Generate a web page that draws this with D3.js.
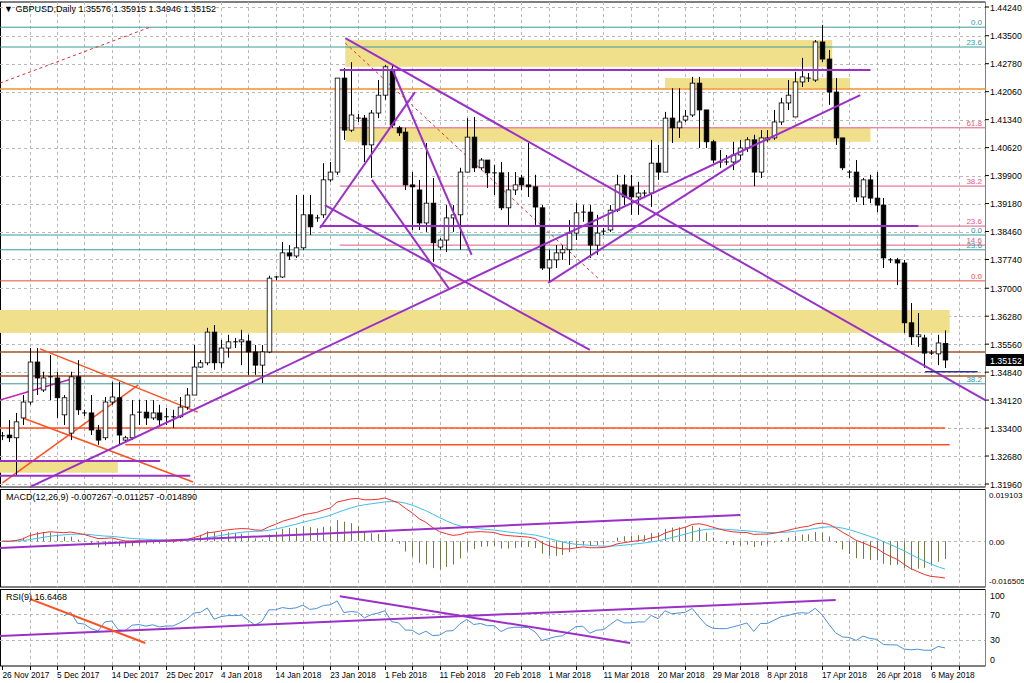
<!DOCTYPE html>
<html><head><meta charset="utf-8">
<script src="https://cdn.jsdelivr.net/npm/d3@7/dist/d3.min.js"></script>
<style>body{margin:0;background:#fff}svg{display:block;font-family:"Liberation Sans",Arial,sans-serif}</style>
</head><body><svg id="c" width="1024" height="683"></svg>
<script>
const opens=[1.3320,1.3322,1.3315,1.3366,1.3407,1.3510,1.3438,1.3472,1.3469,1.3374,1.3327,1.3472,1.3379,1.3379,1.3335,1.3315,1.3407,1.3418,1.3309,1.3315,1.3379,1.3381,1.3366,1.3379,1.3366,1.3369,1.3369,1.3394,1.3425,1.3497,1.3508,1.3587,1.3508,1.3546,1.3562,1.3562,1.3564,1.3536,1.3502,1.3536,1.3726,1.3729,1.3791,1.3783,1.3804,1.3889,1.3881,1.3889,1.3979,1.3999,1.4241,1.4107,1.4138,1.4138,1.4069,1.4151,1.4197,1.4262,1.4113,1.4102,1.3966,1.3953,1.3868,1.3919,1.3806,1.3824,1.3881,1.3889,1.3999,1.4089,1.4010,1.4030,1.3997,1.3997,1.3907,1.3953,1.3984,1.3966,1.3961,1.3907,1.3752,1.3773,1.3791,1.3799,1.3842,1.3896,1.3896,1.3811,1.3847,1.3850,1.3901,1.3966,1.3961,1.3935,1.3945,1.3945,1.4022,1.3999,1.4138,1.4113,1.4133,1.4146,1.4228,1.4159,1.4077,1.4022,1.4022,1.4025,1.4043,1.4061,1.4082,1.3999,1.4082,1.4087,1.4128,1.4177,1.4141,1.4231,1.4241,1.4236,1.4334,1.4290,1.4205,1.4087,1.3999,1.3999,1.3935,1.3979,1.3932,1.3914,1.3773,1.3773,1.3765,1.3611,1.3575,1.3572,1.3533,1.3531,1.35576];
const highs=[1.3330,1.3361,1.3379,1.3425,1.3546,1.3546,1.3485,1.3528,1.3485,1.3425,1.3485,1.3515,1.3387,1.3425,1.3348,1.3420,1.3459,1.3459,1.3320,1.3412,1.3412,1.3412,1.3412,1.3400,1.3392,1.3387,1.3420,1.3443,1.3554,1.3515,1.3598,1.3605,1.3567,1.3580,1.3572,1.3593,1.3580,1.3554,1.3554,1.3732,1.3732,1.3819,1.3811,1.3940,1.3940,1.3940,1.3889,1.4022,1.4025,1.4241,1.4267,1.4282,1.4149,1.4146,1.4159,1.4236,1.4275,1.4275,1.4118,1.4113,1.3999,1.3979,1.4074,1.3984,1.3829,1.3914,1.3914,1.4010,1.4138,1.4141,1.4035,1.4030,1.4017,1.4025,1.3999,1.3999,1.3992,1.4074,1.3992,1.3914,1.3799,1.3811,1.3811,1.3876,1.3919,1.3914,1.3914,1.3889,1.3855,1.3914,1.3992,1.3992,1.3992,1.3974,1.3953,1.4082,1.4069,1.4154,1.4215,1.4215,1.4159,1.4244,1.4244,1.4159,1.4082,1.4056,1.4043,1.4077,1.4082,1.4089,1.4095,1.4107,1.4107,1.4159,1.4190,1.4236,1.4257,1.4293,1.4254,1.4339,1.4378,1.4313,1.4241,1.4087,1.4004,1.4030,1.3984,1.3992,1.3999,1.3932,1.3778,1.3778,1.3773,1.3662,1.3636,1.3580,1.3541,1.3580,1.35915];
const lows=[1.3309,1.3304,1.3219,1.3348,1.3400,1.3425,1.3433,1.3412,1.3366,1.3348,1.3309,1.3374,1.3371,1.3322,1.3297,1.3309,1.3400,1.3297,1.3304,1.3309,1.3348,1.3348,1.3361,1.3348,1.3348,1.3340,1.3366,1.3387,1.3425,1.3495,1.3502,1.3490,1.3495,1.3521,1.3546,1.3502,1.3477,1.3477,1.3456,1.3533,1.3721,1.3726,1.3773,1.3778,1.3799,1.3837,1.3871,1.3881,1.3974,1.3992,1.4082,1.4102,1.4128,1.4025,1.3984,1.4138,1.4185,1.4113,1.4092,1.3953,1.3850,1.3850,1.3845,1.3768,1.3799,1.3793,1.3845,1.3799,1.3999,1.3999,1.4004,1.3958,1.3940,1.3901,1.3863,1.3940,1.3953,1.3935,1.3863,1.3747,1.3714,1.3752,1.3773,1.3760,1.3824,1.3871,1.3778,1.3786,1.3837,1.3845,1.3896,1.3914,1.3889,1.3889,1.3932,1.3909,1.3979,1.3999,1.4074,1.4087,1.4128,1.4141,1.4061,1.4061,1.4022,1.4010,1.4017,1.4004,1.4030,1.4051,1.3963,1.3984,1.4077,1.4082,1.4120,1.4159,1.4141,1.4218,1.4231,1.4231,1.4282,1.4172,1.4069,1.4004,1.3984,1.3922,1.3914,1.3919,1.3896,1.3752,1.3765,1.3708,1.3585,1.3554,1.3549,1.3495,1.3528,1.3502,1.34946];
const closes=[1.3317,1.3315,1.3356,1.3407,1.3510,1.3469,1.3469,1.3469,1.3418,1.3418,1.3472,1.3387,1.3379,1.3335,1.3309,1.3407,1.3420,1.3322,1.3315,1.3374,1.3381,1.3366,1.3379,1.3361,1.3369,1.3369,1.3394,1.3425,1.3497,1.3508,1.3587,1.3508,1.3546,1.3562,1.3562,1.3567,1.3536,1.3502,1.3536,1.3726,1.3729,1.3791,1.3783,1.3804,1.3889,1.3858,1.3881,1.3979,1.3999,1.4241,1.4107,1.4146,1.4138,1.4069,1.4151,1.4197,1.4270,1.4120,1.4100,1.3966,1.3961,1.3868,1.3919,1.3817,1.3824,1.3881,1.3889,1.3999,1.4089,1.4010,1.4030,1.3997,1.3997,1.3907,1.3953,1.3966,1.3966,1.3961,1.3909,1.3752,1.3773,1.3791,1.3799,1.3842,1.3894,1.3896,1.3811,1.3842,1.3847,1.3901,1.3966,1.3935,1.3935,1.3945,1.3945,1.4022,1.3999,1.4138,1.4113,1.4128,1.4143,1.4228,1.4159,1.4077,1.4030,1.4025,1.4025,1.4043,1.4061,1.4082,1.3999,1.4087,1.4087,1.4128,1.4177,1.4197,1.4231,1.4244,1.4241,1.4334,1.4290,1.4205,1.4087,1.4010,1.3999,1.3935,1.3979,1.3932,1.3914,1.3778,1.3770,1.3765,1.3611,1.3575,1.3580,1.3533,1.3533,1.3559,1.35152];
const dateLabels=["26 Nov 2017","5 Dec 2017","14 Dec 2017","25 Dec 2017","4 Jan 2018","14 Jan 2018","23 Jan 2018","1 Feb 2018","11 Feb 2018","20 Feb 2018","1 Mar 2018","11 Mar 2018","20 Mar 2018","29 Mar 2018","8 Apr 2018","17 Apr 2018","26 Apr 2018","6 May 2018"];
const priceTicks=["1.44240","1.43500","1.42780","1.42060","1.41340","1.40620","1.39900","1.39180","1.38460","1.37740","1.37000","1.36280","1.35560","1.34840","1.34120","1.33400","1.32680","1.31960"];
const macdTicks=["0.019103","0.00","-0.016505"];
const rsiTicks=[100,70,30,0];
const zones=[[50.2,1.4339,121.5,1.4270],[97,1.4241,124.1,1.4215],[50.2,1.4113,127.1,1.4077],[-1,1.3644,138.7,1.3585],[-1,1.3258,16.9,1.3225]];
const hLevels=[[-1,143.9,1.4372,"#3a9a9a","0.0"],[-1,143.9,1.4321,"#3a9a9a","23.6"],[-1,143.9,1.4213,"#f0902a",""],[49.4,143.9,1.4113,"#e05a80","61.8"],[49.4,143.9,1.3963,"#e05a80","38.2"],[49.4,143.9,1.3860,"#e05a80","23.6"],[-1,143.9,1.3837,"#3a9a9a","0.0"],[49.4,143.9,1.3811,"#e05a80","14.6"],[-1,143.9,1.3799,"#3a9a9a","23.6"],[-1,143.9,1.3719,"#e0503a","0.0"],[-1,143.9,1.3536,"#a0522d",""],[-1,143.9,1.3474,"#a0522d",""],[-1,143.9,1.3454,"#3a9a9a","38.2"],[-1,138,1.3340,"#ff5020",""],[18,138.7,1.3297,"#ff5020",""]];
const purpleLines=[[49.4,1.4262,127.1,1.4262],[46.5,1.3860,134.1,1.3860],[50.2,1.4344,143.9,1.3412],[4,1.3188,125.6,1.4197],[79.9,1.3714,108,1.4030],[46.5,1.3855,60.4,1.4205],[57,1.4267,68.7,1.3786],[54.1,1.3979,65.5,1.3696],[47.2,1.3914,86,1.3541],[-1,1.3255,23.1,1.3255],[-1,1.3217,27.5,1.3217]];
const orangeLines=[[5.5,1.3544,28.6,1.3381],[3,1.3366,27.9,1.3201],[0,1.3199,19.9,1.3451]];
const magentaLines=[[-0.35,1.3412,10.6,1.3469]];
const dashedLines=[[-0.35,1.4228,21.6,1.4372],[50.2,1.4331,87.5,1.3721]];
const navyLine=[135.1,1.3485,142.8,1.3485];
const macdTrend=[-0.35,-0.00275,108,0.0106];
const rsiTrends=[[-0.35,36,122,92,"#9a30c8"],[49.4,98,91.9,25,"#9a30c8"],[4,94,20.9,25,"#ff5020"]];

const svg=d3.select("#c");
const R=985;
const x=d3.scaleLinear().domain([0,1]).range([2.4,9.23]);
const y=d3.scaleLinear().domain([1.3196,1.4424]).range([484,7]);
const ym=d3.scaleLinear().domain([-0.016505,0.019103]).range([582,494]);
const yr=d3.scaleLinear().domain([0,100]).range([659,595]);
const N=closes.length;
function ema(a,n){const k=2/(n+1);let o=[],p=a[0];a.forEach((v,i)=>{p=i?v*k+p*(1-k):v;o.push(p)});return o;}
const e12=ema(closes,12),e26=ema(closes,26);
const macd=closes.map((c,i)=>e12[i]-e26[i]);
const sig=ema(macd,9);
const osma=macd.map((m,i)=>2*(m-sig[i]));
const rsi=[];{let ag=0,al=0;closes.forEach((c,i)=>{if(i==0){rsi.push(null);return;}const d=c-closes[i-1];const g=Math.max(d,0),l=Math.max(-d,0);if(i<=9){ag+=g/9;al+=l/9;}else{ag=(ag*8+g)/9;al=(al*8+l)/9;}rsi.push(i<9?null:(al==0?100:100-100/(1+ag/al)));});}

const g=svg.append("g");
function frame(t,b){g.append("rect").attr("x",0.5).attr("y",t).attr("width",R).attr("height",b-t).attr("fill","none").attr("stroke","#000");}
const grid=svg.append("g").attr("stroke","#b8b8b8").attr("stroke-dasharray","3,3");
for(let b=4;b<144;b+=4){const xx=Math.round(x(b))+0.5;[[2,487],[490,587],[590,666]].forEach(([t,bt])=>grid.append("line").attr("x1",xx).attr("x2",xx).attr("y1",t).attr("y2",bt));}
priceTicks.forEach(t=>{const yy=Math.round(y(+t))+0.5;grid.append("line").attr("x1",0).attr("x2",R).attr("y1",yy).attr("y2",yy);});
[0].forEach(v=>grid.append("line").attr("x1",0).attr("x2",R).attr("y1",Math.round(ym(v))+.5).attr("y2",Math.round(ym(v))+.5));
[70,30].forEach(v=>grid.append("line").attr("x1",0).attr("x2",R).attr("y1",Math.round(yr(v))+.5).attr("y2",Math.round(yr(v))+.5));

zones.forEach(z=>svg.append("rect").attr("x",x(z[0])).attr("y",y(z[1])).attr("width",x(z[2])-x(z[0])).attr("height",y(z[3])-y(z[1])).attr("fill","#f0e08c"));
hLevels.forEach(l=>{svg.append("line").attr("x1",x(l[0])).attr("x2",x(l[1])).attr("y1",y(l[2])).attr("y2",y(l[2])).attr("stroke",l[3]).attr("stroke-width",l[3]=="#a0522d"||l[3]=="#ff5020"||l[3]=="#f0902a"?1.5:1);
 if(l[4])svg.append("text").attr("x",982).attr("y",y(l[2])-2).attr("text-anchor","end").attr("font-size",8).attr("fill",l[3]).text(l[4]);});
function seg(a,col,w,dash){svg.append("line").attr("x1",x(a[0])).attr("y1",y(a[1])).attr("x2",x(a[2])).attr("y2",y(a[3])).attr("stroke",col).attr("stroke-width",w).attr("stroke-dasharray",dash||null);}
dashedLines.forEach(a=>seg(a,"#e03030",1,"3,3"));
orangeLines.forEach(a=>seg(a,"#ff5020",1.5));
magentaLines.forEach(a=>seg(a,"#c020b0",1.5));

const cw=4.6;
const cg=svg.append("g");
closes.forEach((c,i)=>{const xx=Math.round(x(i))+0.5,o=opens[i];
 cg.append("line").attr("x1",xx).attr("x2",xx).attr("y1",y(highs[i])).attr("y2",y(lows[i])).attr("stroke","#000");
 const t=y(Math.max(o,c)),b=y(Math.min(o,c));
 if(b-t<1.2)cg.append("line").attr("x1",xx-cw/2).attr("x2",xx+cw/2).attr("y1",t).attr("y2",t).attr("stroke","#000");
 else cg.append("rect").attr("x",xx-cw/2).attr("y",t).attr("width",cw).attr("height",b-t).attr("fill",c>=o?"#fff":"#000").attr("stroke","#000").attr("stroke-width",0.8);
});
purpleLines.forEach(a=>seg(a,"#9a30c8",2));
seg(navyLine,"#303090",1.5);

svg.append("g").selectAll("line").data(osma).join("line").attr("x1",(d,i)=>Math.round(x(i))+.5).attr("x2",(d,i)=>Math.round(x(i))+.5).attr("y1",ym(0)).attr("y2",d=>ym(d)).attr("stroke","#6f7a4a");
svg.append("path").datum(sig).attr("d",d3.line().x((d,i)=>x(i)).y(d=>ym(d))).attr("fill","none").attr("stroke","#3ec0e8").attr("stroke-width",1);
svg.append("path").datum(macd).attr("d",d3.line().x((d,i)=>x(i)).y(d=>ym(d))).attr("fill","none").attr("stroke","#f03030").attr("stroke-width",1);
svg.append("line").attr("x1",x(macdTrend[0])).attr("y1",ym(macdTrend[1])).attr("x2",x(macdTrend[2])).attr("y2",ym(macdTrend[3])).attr("stroke","#9a30c8").attr("stroke-width",2);
svg.append("path").datum(rsi).attr("d",d3.line().defined(d=>d!=null).x((d,i)=>x(i)).y(d=>yr(d))).attr("fill","none").attr("stroke","#4a90d8").attr("stroke-width",1);
rsiTrends.forEach(a=>svg.append("line").attr("x1",x(a[0])).attr("y1",yr(a[1])).attr("x2",x(a[2])).attr("y2",yr(a[3])).attr("stroke",a[4]).attr("stroke-width",2));

svg.append("rect").attr("x",R+0.5).attr("y",0).attr("width",40).attr("height",683).attr("fill","#fff");
frame(2,487);frame(489.5,587);frame(589.5,666);
const ax=svg.append("g").attr("font-size",8.8).attr("fill","#000");
priceTicks.forEach(t=>{const yy=y(+t);ax.append("line").attr("x1",R).attr("x2",R+4).attr("y1",yy).attr("y2",yy).attr("stroke","#000");ax.append("text").attr("x",990).attr("y",yy+3.5).text(t);});
svg.append("rect").attr("x",986).attr("y",y(1.35152)-6).attr("width",38).attr("height",12).attr("fill","#000");
svg.append("text").attr("x",990).attr("y",y(1.35152)+3.5).attr("font-size",8.8).attr("fill","#fff").text("1.35152");
[[0.019103,macdTicks[0],4],[0,macdTicks[1],3.5],[-0.016505,macdTicks[2],2]].forEach(([v,t,d])=>ax.append("text").attr("x",989).attr("y",ym(v)+d).attr("font-size",8).text(t));
rsiTicks.forEach(v=>ax.append("text").attr("x",990).attr("y",yr(v)+3.5).text(v));
dateLabels.forEach((t,i)=>ax.append("text").attr("x",x(i*8)).attr("y",678).attr("font-size",8.3).text(t));
for(let b=0;b<144;b+=4){ax.append("line").attr("x1",Math.round(x(b))+.5).attr("x2",Math.round(x(b))+.5).attr("y1",666).attr("y2",670).attr("stroke","#000");}
svg.append("text").attr("x",4).attr("y",12).attr("font-size",9).text("▼ GBPUSD,Daily  1.35576 1.35915 1.34946 1.35152");
svg.append("text").attr("x",6).attr("y",500).attr("font-size",9).text("MACD(12,26,9) -0.007267 -0.011257 -0.014890");
svg.append("text").attr("x",6).attr("y",600).attr("font-size",9).text("RSI(9) 16.6468");
</script></body></html>
